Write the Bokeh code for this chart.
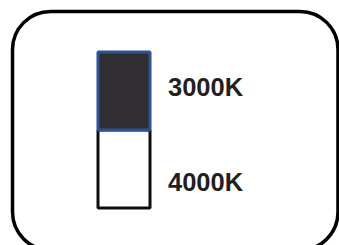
from bokeh.plotting import figure
from bokeh.models import Range1d, BoxAnnotation
from bokeh.core.properties import value
from bokeh.embed import file_html
from bokeh.resources import INLINE

# data
categories = ["4000K", "3000K"]          # bottom to top
shares = [1, 1]
fill_colors = ["#ffffff", "#302e30"]
line_colors = ["#0d0d0d", "#2e5395"]

data = {"x": [0]}
for c, s in zip(categories, shares):
    data[c] = [s]

p = figure(width=339, height=245, output_backend="svg", toolbar_location=None,
           x_range=Range1d(-2.375, 4.144), y_range=Range1d(-0.481, 2.660),
           min_border=0, outline_line_color=None)
p.axis.visible = False
p.grid.visible = False
p.background_fill_color = "white"
p.border_fill_color = "white"

# rounded frame
frame = BoxAnnotation(left=-2.144, right=4.115, top=2.519, bottom=-0.54,
                      fill_alpha=0, line_color="black", line_alpha=1,
                      line_width=3.5, border_radius=38, level="underlay")
p.add_layout(frame)

p.vbar_stack(categories, x="x", width=1, source=data,
             fill_color=fill_colors, line_color=line_colors, line_width=3)

# labels
offsets = [0.338, 0.556]
bottoms = [0]
for s in shares[:-1]:
    bottoms.append(bottoms[-1] + s)
label_y = [b + o * s for b, o, s in zip(bottoms, offsets, shares)]
p.text(x=[0.845] * len(categories), y=label_y, text=categories,
       text_font=value("Liberation Sans"), text_font_style="bold",
       text_font_size="25.5px", text_color="#231f20",
       text_baseline="alphabetic", text_align="left")

open("out.html", "w").write(file_html(p, INLINE))
